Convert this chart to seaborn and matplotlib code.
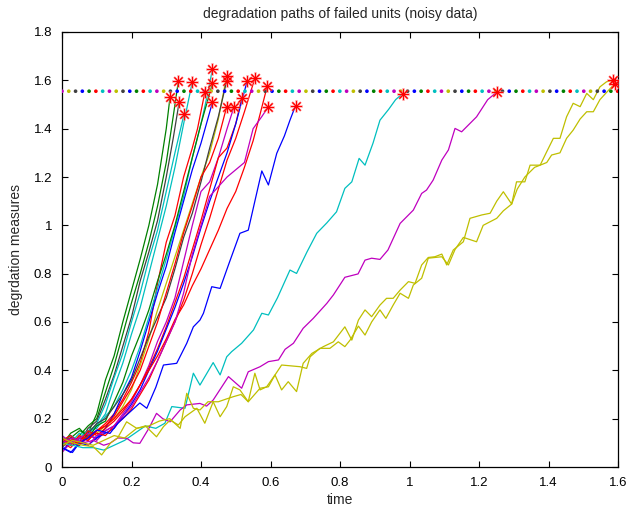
import numpy as np
import pandas as pd
import matplotlib
matplotlib.use("Agg")
import matplotlib.pyplot as plt
import seaborn as sns

# ---------------- data ----------------
threshold = 1.555

# colour letters (old MATLAB colour order)
unit_colors = ["g", "g", "k", "c", "c",
               "r", "c", "g", "b", "y", "k", "r", "m", "r", "b", "r", "r", "m",
               "b", "c", "m", "y", "y"]

x01 = [0, 0.025, 0.05, 0.075, 0.1, 0.125, 0.15, 0.175, 0.2, 0.225, 0.25, 0.275, 0.3, 0.311]
y01 = [0.10, 0.12, 0.15, 0.14, 0.22, 0.36, 0.46, 0.60, 0.73, 0.86, 1.00, 1.17, 1.40, 1.532]
x02 = [0, 0.025, 0.05, 0.075, 0.1, 0.125, 0.15, 0.175, 0.2, 0.225, 0.25, 0.275, 0.3, 0.32, 0.335]
y02 = [0.11, 0.09, 0.13, 0.17, 0.20, 0.31, 0.42, 0.55, 0.68, 0.80, 0.93, 1.08, 1.26, 1.45, 1.598]
x03 = [0, 0.025, 0.05, 0.075, 0.1, 0.125, 0.15, 0.175, 0.2, 0.225, 0.25, 0.275, 0.3, 0.32, 0.337]
y03 = [0.08, 0.12, 0.10, 0.16, 0.19, 0.28, 0.38, 0.50, 0.62, 0.77, 0.89, 1.02, 1.20, 1.36, 1.509]
x04 = [0, 0.025, 0.05, 0.075, 0.1, 0.125, 0.15, 0.175, 0.2, 0.225, 0.25, 0.275, 0.3, 0.325, 0.351]
y04 = [0.12, 0.10, 0.14, 0.13, 0.18, 0.26, 0.37, 0.47, 0.60, 0.72, 0.86, 0.98, 1.14, 1.30, 1.459]
x05 = [0, 0.025, 0.05, 0.075, 0.1, 0.125, 0.15, 0.175, 0.2, 0.225, 0.25, 0.275, 0.3, 0.325, 0.35, 0.375]
y05 = [0.09, 0.13, 0.11, 0.15, 0.17, 0.22, 0.33, 0.43, 0.55, 0.66, 0.80, 0.94, 1.08, 1.24, 1.42, 1.594]

x06 = [0, 0.025, 0.05, 0.075, 0.1, 0.125, 0.15, 0.175, 0.2, 0.225, 0.25, 0.275, 0.3, 0.325, 0.35, 0.375, 0.39, 0.411]
y06 = [0.10, 0.08, 0.12, 0.11, 0.15, 0.18, 0.22, 0.28, 0.35, 0.43, 0.56, 0.76, 0.93, 1.04, 1.20, 1.32, 1.40, 1.55]
x07 = [0, 0.025, 0.05, 0.075, 0.1, 0.125, 0.15, 0.175, 0.2, 0.225, 0.25, 0.275, 0.3, 0.325, 0.35, 0.375, 0.4, 0.42, 0.433]
y07 = [0.13, 0.10, 0.12, 0.15, 0.16, 0.21, 0.25, 0.32, 0.40, 0.50, 0.62, 0.74, 0.86, 0.99, 1.12, 1.28, 1.42, 1.55, 1.647]
x08 = [0, 0.025, 0.05, 0.075, 0.1, 0.125, 0.15, 0.175, 0.2, 0.225, 0.25, 0.275, 0.3, 0.325, 0.35, 0.375, 0.4, 0.433]
y08 = [0.09, 0.14, 0.16, 0.12, 0.17, 0.19, 0.27, 0.35, 0.46, 0.55, 0.65, 0.77, 0.88, 1.00, 1.14, 1.28, 1.42, 1.587]
x09 = [0, 0.025, 0.05, 0.075, 0.1, 0.125, 0.15, 0.175, 0.2, 0.225, 0.25, 0.275, 0.3, 0.325, 0.35, 0.375, 0.4, 0.433]
y09 = [0.07, 0.10, 0.09, 0.13, 0.12, 0.16, 0.22, 0.30, 0.37, 0.48, 0.60, 0.72, 0.83, 0.97, 1.10, 1.23, 1.34, 1.509]
x10 = [0, 0.025, 0.05, 0.075, 0.1, 0.125, 0.15, 0.175, 0.2, 0.225, 0.25, 0.275, 0.3, 0.325, 0.35, 0.375, 0.4, 0.425, 0.45, 0.474]
y10 = [0.11, 0.09, 0.13, 0.12, 0.14, 0.17, 0.20, 0.25, 0.32, 0.42, 0.53, 0.65, 0.76, 0.87, 0.98, 1.09, 1.20, 1.30, 1.44, 1.619]
x11 = [0, 0.025, 0.05, 0.075, 0.1, 0.125, 0.15, 0.175, 0.2, 0.225, 0.25, 0.275, 0.3, 0.325, 0.35, 0.375, 0.4, 0.425, 0.45, 0.474]
y11 = [0.10, 0.12, 0.09, 0.14, 0.18, 0.20, 0.25, 0.30, 0.36, 0.45, 0.54, 0.62, 0.70, 0.82, 0.95, 1.05, 1.18, 1.32, 1.45, 1.598]
x12 = [0, 0.025, 0.05, 0.075, 0.1, 0.125, 0.15, 0.175, 0.2, 0.225, 0.25, 0.275, 0.3, 0.325, 0.35, 0.375, 0.4, 0.425, 0.45, 0.474]
y12 = [0.12, 0.09, 0.13, 0.11, 0.15, 0.17, 0.21, 0.27, 0.33, 0.40, 0.50, 0.60, 0.72, 0.84, 0.97, 1.08, 1.20, 1.26, 1.36, 1.491]
x13 = [0, 0.025, 0.05, 0.075, 0.1, 0.125, 0.15, 0.175, 0.2, 0.225, 0.25, 0.275, 0.3, 0.325, 0.35, 0.375, 0.4, 0.425, 0.45, 0.475, 0.495]
y13 = [0.06, 0.10, 0.12, 0.14, 0.11, 0.15, 0.17, 0.22, 0.27, 0.34, 0.42, 0.52, 0.60, 0.70, 0.85, 1.00, 1.14, 1.18, 1.28, 1.40, 1.491]
x14 = [0, 0.025, 0.05, 0.075, 0.1, 0.125, 0.15, 0.175, 0.2, 0.225, 0.25, 0.275, 0.3, 0.325, 0.35, 0.375, 0.4, 0.425, 0.45, 0.475, 0.5, 0.517]
y14 = [0.09, 0.11, 0.10, 0.15, 0.13, 0.16, 0.19, 0.23, 0.28, 0.34, 0.41, 0.49, 0.58, 0.68, 0.78, 0.90, 1.02, 1.15, 1.28, 1.32, 1.42, 1.525]
x15 = [0, 0.025, 0.05, 0.075, 0.1, 0.125, 0.15, 0.175, 0.2, 0.225, 0.25, 0.275, 0.3, 0.325, 0.35, 0.375, 0.4, 0.425, 0.45, 0.475, 0.5, 0.533]
y15 = [0.08, 0.06, 0.10, 0.09, 0.12, 0.14, 0.16, 0.21, 0.26, 0.32, 0.40, 0.48, 0.57, 0.66, 0.76, 0.87, 0.99, 1.10, 1.20, 1.30, 1.42, 1.598]
x16 = [0, 0.025, 0.05, 0.075, 0.1, 0.125, 0.15, 0.175, 0.2, 0.225, 0.25, 0.275, 0.3, 0.325, 0.35, 0.375, 0.4, 0.425, 0.45, 0.475, 0.5, 0.525, 0.555]
y16 = [0.11, 0.13, 0.10, 0.12, 0.14, 0.13, 0.17, 0.20, 0.24, 0.30, 0.36, 0.44, 0.52, 0.60, 0.69, 0.80, 0.92, 1.03, 1.15, 1.27, 1.36, 1.47, 1.608]
x17 = [0, 0.025, 0.05, 0.075, 0.1, 0.125, 0.15, 0.175, 0.2, 0.225, 0.25, 0.275, 0.3, 0.325, 0.35, 0.375, 0.4, 0.425, 0.45, 0.475, 0.5, 0.525, 0.55, 0.57, 0.591]
y17 = [0.10, 0.12, 0.09, 0.13, 0.15, 0.17, 0.20, 0.24, 0.28, 0.34, 0.40, 0.46, 0.53, 0.61, 0.67, 0.75, 0.82, 0.90, 0.98, 1.07, 1.14, 1.24, 1.35, 1.46, 1.578]
x18 = [0, 0.025, 0.05, 0.075, 0.1, 0.125, 0.15, 0.175, 0.2, 0.225, 0.25, 0.275, 0.3, 0.325, 0.35, 0.375, 0.4, 0.425, 0.45, 0.475, 0.5, 0.525, 0.55, 0.575, 0.594]
y18 = [0.13, 0.10, 0.12, 0.09, 0.13, 0.15, 0.17, 0.21, 0.25, 0.31, 0.37, 0.44, 0.52, 0.60, 0.72, 0.88, 1.00, 1.12, 1.16, 1.20, 1.23, 1.26, 1.40, 1.45, 1.491]

x19 = [0, 0.03, 0.05, 0.075, 0.1, 0.138, 0.16, 0.186, 0.224, 0.244, 0.27, 0.292, 0.33, 0.359,
       0.378, 0.397, 0.407, 0.431, 0.455, 0.48, 0.512, 0.536, 0.555, 0.575, 0.594, 0.618, 0.64, 0.656, 0.672]
y19 = [0.08, 0.06, 0.10, 0.12, 0.153, 0.139, 0.18, 0.215, 0.265, 0.243, 0.33, 0.422, 0.429, 0.512,
       0.58, 0.608, 0.636, 0.746, 0.739, 0.84, 0.967, 0.98, 1.10, 1.225, 1.167, 1.298, 1.37, 1.435, 1.495]

x20 = [0, 0.03, 0.06, 0.09, 0.12, 0.15, 0.18, 0.21, 0.24, 0.27, 0.296, 0.316, 0.354, 0.378, 0.397,
       0.435, 0.455, 0.474, 0.488, 0.517, 0.551, 0.575, 0.594, 0.62, 0.656, 0.675, 0.705, 0.733,
       0.762, 0.79, 0.814, 0.834, 0.855, 0.872, 0.895, 0.915, 0.94, 0.96, 0.98]
y20 = [0.10, 0.09, 0.08, 0.08, 0.07, 0.09, 0.11, 0.14, 0.17, 0.16, 0.181, 0.25, 0.243, 0.388, 0.339,
       0.432, 0.381, 0.456, 0.477, 0.512, 0.567, 0.636, 0.629, 0.70, 0.815, 0.801, 0.89, 0.967,
       1.01, 1.056, 1.153, 1.18, 1.277, 1.249, 1.34, 1.435, 1.48, 1.52, 1.545]

x21 = [0, 0.03, 0.06, 0.09, 0.12, 0.138, 0.16, 0.186, 0.205, 0.224, 0.25, 0.272, 0.29, 0.311, 0.34,
       0.359, 0.397, 0.416, 0.435, 0.479, 0.517, 0.536, 0.57, 0.594, 0.623, 0.642, 0.666, 0.694,
       0.723, 0.762, 0.781, 0.814, 0.852, 0.872, 0.891, 0.915, 0.938, 0.973, 1.011, 1.035, 1.049,
       1.068, 1.093, 1.112, 1.131, 1.15, 1.193, 1.225, 1.25]
y21 = [0.10, 0.12, 0.10, 0.11, 0.09, 0.098, 0.12, 0.119, 0.10, 0.098, 0.16, 0.222, 0.20, 0.187, 0.236,
       0.257, 0.263, 0.252, 0.277, 0.374, 0.326, 0.394, 0.415, 0.436, 0.443, 0.487, 0.512, 0.574,
       0.615, 0.677, 0.712, 0.785, 0.799, 0.856, 0.864, 0.859, 0.898, 1.008, 1.063, 1.132, 1.146,
       1.187, 1.27, 1.312, 1.401, 1.387, 1.449, 1.52, 1.55]

x22 = [0, 0.03, 0.06, 0.09, 0.114, 0.14, 0.16, 0.186, 0.215, 0.24, 0.272, 0.292, 0.311, 0.335, 0.354,
       0.388, 0.411, 0.435, 0.455, 0.474, 0.493, 0.512, 0.536, 0.555, 0.57, 0.589, 0.613, 0.632,
       0.651, 0.675, 0.694, 0.719, 0.752, 0.781, 0.814, 0.834, 0.853, 0.872, 0.891, 0.915, 0.934,
       0.953, 0.973, 0.997, 1.016, 1.035, 1.054, 1.073, 1.093, 1.107, 1.126, 1.155, 1.174, 1.208,
       1.232, 1.251, 1.27, 1.294, 1.308, 1.332, 1.347, 1.376, 1.395, 1.414, 1.433, 1.452, 1.471,
       1.491, 1.51, 1.529, 1.548, 1.567, 1.585]
y22 = [0.12, 0.10, 0.09, 0.084, 0.05, 0.10, 0.12, 0.187, 0.16, 0.17, 0.125, 0.167, 0.194, 0.174, 0.208,
       0.243, 0.181, 0.27, 0.208, 0.25, 0.332, 0.319, 0.27, 0.388, 0.319, 0.332, 0.381, 0.319,
       0.353, 0.312, 0.429, 0.47, 0.498, 0.518, 0.58, 0.525, 0.608, 0.65, 0.622, 0.67, 0.698,
       0.698, 0.732, 0.767, 0.76, 0.836, 0.867, 0.87, 0.881, 0.836, 0.898, 0.932, 1.029, 1.043,
       1.05, 1.10, 1.139, 1.088, 1.18, 1.18, 1.249, 1.249, 1.305, 1.36, 1.36, 1.449, 1.505,
       1.491, 1.546, 1.52, 1.573, 1.594, 1.60]

x23 = [0, 0.03, 0.06, 0.09, 0.12, 0.15, 0.18, 0.215, 0.25, 0.28, 0.31, 0.34, 0.359, 0.378, 0.397,
       0.42, 0.45, 0.47, 0.493, 0.515, 0.536, 0.57, 0.594, 0.613, 0.632, 0.685, 0.704, 0.714,
       0.742, 0.771, 0.795, 0.814, 0.829, 0.853, 0.872, 0.891, 0.915, 0.932, 0.953, 0.973, 0.997,
       1.011, 1.035, 1.054, 1.093, 1.112, 1.131, 1.155, 1.193, 1.212, 1.251, 1.27, 1.294, 1.31,
       1.332, 1.36, 1.376, 1.395, 1.409, 1.433, 1.452, 1.471, 1.491, 1.51, 1.529, 1.548, 1.567, 1.59]
y23 = [0.09, 0.11, 0.10, 0.09, 0.11, 0.13, 0.12, 0.16, 0.17, 0.19, 0.20, 0.16, 0.305, 0.243, 0.236,
       0.27, 0.27, 0.28, 0.291, 0.30, 0.27, 0.326, 0.332, 0.381, 0.422, 0.415, 0.408, 0.456,
       0.491, 0.491, 0.518, 0.498, 0.525, 0.583, 0.546, 0.60, 0.65, 0.615, 0.67, 0.719, 0.698,
       0.753, 0.781, 0.864, 0.87, 0.836, 0.90, 0.95, 0.932, 1.00, 1.029, 1.06, 1.088, 1.15,
       1.20, 1.24, 1.249, 1.26, 1.291, 1.30, 1.36, 1.394, 1.44, 1.47, 1.47, 1.52, 1.55, 1.585]

xs = [x01, x02, x03, x04, x05, x06, x07, x08, x09, x10, x11, x12, x13, x14, x15, x16,
      x17, x18, x19, x20, x21, x22, x23]
ys = [y01, y02, y03, y04, y05, y06, y07, y08, y09, y10, y11, y12, y13, y14, y15, y16,
      y17, y18, y19, y20, y21, y22, y23]

# failure markers (noisy observed failure points)
fail_x = [0.311, 0.335, 0.337, 0.351, 0.375, 0.411, 0.433, 0.433, 0.433, 0.474, 0.474,
          0.474, 0.495, 0.517, 0.533, 0.555, 0.591, 0.594, 0.672, 0.98, 1.251, 1.585, 1.59]
fail_y = [1.532, 1.598, 1.509, 1.459, 1.594, 1.55, 1.647, 1.587, 1.509, 1.619, 1.598,
          1.491, 1.491, 1.525, 1.598, 1.608, 1.578, 1.491, 1.495, 1.545, 1.55, 1.60, 1.585]

x_ticks = [0, 0.2, 0.4, 0.6, 0.8, 1.0, 1.2, 1.4, 1.6]
x_ticklabels = ["0", "0.2", "0.4", "0.6", "0.8", "1", "1.2", "1.4", "1.6"]
y_ticks = [0, 0.2, 0.4, 0.6, 0.8, 1.0, 1.2, 1.4, 1.6, 1.8]
y_ticklabels = ["0", "0.2", "0.4", "0.6", "0.8", "1", "1.2", "1.4", "1.6", "1.8"]

dot_colors = ["b", "g", "r", "c", "m", "y", "k"]

# ---------------- styling ----------------
matlab = {"b": (0, 0, 1), "g": (0, 0.5, 0), "r": (1, 0, 0), "c": (0, 0.75, 0.75),
          "m": (0.75, 0, 0.75), "y": (0.75, 0.75, 0), "k": (0.25, 0.25, 0.25)}

sns.set_theme(style="ticks")
plt.rcParams["font.family"] = ["Liberation Sans", "DejaVu Sans"]
plt.rcParams["xtick.direction"] = "in"
plt.rcParams["ytick.direction"] = "in"

rows = []
for i, (xx, yy) in enumerate(zip(xs, ys)):
    for a, b in zip(xx, yy):
        rows.append({"unit": i, "time": a, "value": b})
df = pd.DataFrame(rows)
palette = {i: matlab[c] for i, c in enumerate(unit_colors)}

fig = plt.figure(figsize=(6.29, 5.14), dpi=100)
ax = fig.add_axes([62 / 629, 1 - 467 / 514, (618 - 62) / 629, (467 - 32) / 514])

sns.lineplot(data=df, x="time", y="value", hue="unit", units="unit", estimator=None,
             sort=False, palette=palette, linewidth=0.9, legend=False, ax=ax)

# threshold line drawn as coloured dots
dot_x = np.arange(0, 1.6, 0.0195)
dot_c = [matlab[dot_colors[(k + 4) % len(dot_colors)]] for k in range(len(dot_x))]
ax.scatter(dot_x, np.full(len(dot_x), threshold), c=dot_c, s=7, linewidths=0, zorder=3)

# failure asterisks
ax.plot(fail_x, fail_y, linestyle="none", marker=(8, 2, 0), markersize=9,
        color=(1, 0.45, 0.45), markeredgewidth=1.5, alpha=0.5, zorder=4)
ax.plot(fail_x, fail_y, linestyle="none", marker=(8, 2, 0), markersize=8,
        color=(1, 0, 0), markeredgewidth=0.7, zorder=5)

ax.set_xlim(0, 1.6)
ax.set_ylim(0, 1.8)
ax.set_xticks(x_ticks)
ax.set_xticklabels(x_ticklabels)
ax.set_yticks(y_ticks)
ax.set_yticklabels(y_ticklabels)
ax.tick_params(axis="x", which="both", direction="in", top=True, bottom=True,
               length=4, width=0.8, labelsize=9.5, colors="black", pad=7)
ax.tick_params(axis="y", which="both", direction="in", left=True, right=True,
               length=4, width=0.8, labelsize=9.5, colors="black", pad=7)
for s in ax.spines.values():
    s.set_visible(True)
    s.set_color("black")
    s.set_linewidth(0.9)

ax.set_xlabel("time", fontsize=10, labelpad=3)
ax.set_ylabel("degrdation measures", fontsize=10, labelpad=8)
ax.set_title("degradation paths of failed units (noisy data)", fontsize=10, pad=10)

fig.savefig("out.png", dpi=100, facecolor="white")
